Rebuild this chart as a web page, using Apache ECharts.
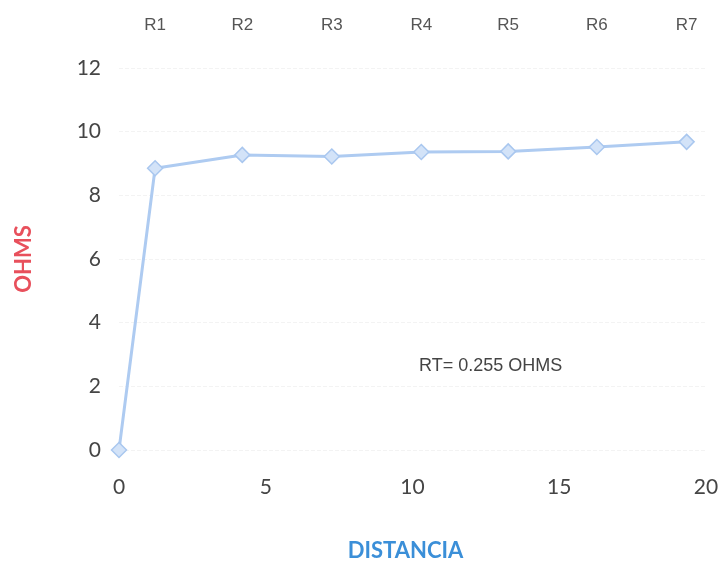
<!DOCTYPE html>
<html>
<head>
<meta charset="utf-8">
<script src="https://cdn.jsdelivr.net/npm/echarts@6/dist/echarts.min.js"></script>
<style>html,body{margin:0;padding:0;background:#fff}#c{width:721px;height:564px}</style>
</head>
<body>
<div id="c"></div>
<script>
var distances = [0, 1.23, 4.2, 7.25, 10.3, 13.26, 16.28, 19.34];
var ohms = [0, 8.85, 9.27, 9.22, 9.36, 9.38, 9.52, 9.68];
var pointNames = ['', 'R1', 'R2', 'R3', 'R4', 'R5', 'R6', 'R7'];
var xTicks = [0, 5, 10, 15, 20];
var yTicks = [0, 2, 4, 6, 8, 10, 12];
var note = 'RT= 0.255 OHMS';

var chart = echarts.init(document.getElementById('c'));
var data = distances.map(function (d, i) { return [d, ohms[i]]; });
var labelFont = 'Lato, "Open Sans", sans-serif';
chart.setOption({
  animation: false,
  backgroundColor: '#ffffff',
  grid: { left: 119, right: 15, top: 68, bottom: 114, outerBoundsMode: 'none', containLabel: false },
  title: {
    text: note, left: 414, top: 352,
    textStyle: { fontFamily: '"Liberation Sans", Arial, sans-serif', fontSize: 18, fontWeight: 'normal', color: '#444' }
  },
  xAxis: [{
    type: 'value', min: xTicks[0], max: xTicks[xTicks.length - 1], interval: 5,
    axisLine: { show: false }, axisTick: { show: false },
    splitLine: { show: false },
    axisLabel: { margin: 27, fontSize: 21, color: '#454545', fontFamily: labelFont },
    name: 'DISTANCIA', nameLocation: 'middle', nameGap: 90,
    nameTextStyle: { fontSize: 22, fontWeight: 'bold', color: '#3b8fd8', fontFamily: labelFont, padding: [0, 14, 0, 0] }
  }, {
    type: 'value', position: 'top', min: xTicks[0], max: xTicks[xTicks.length - 1],
    axisLine: { show: false }, axisTick: { show: false }, splitLine: { show: false },
    axisLabel: {
      customValues: distances.slice(1), margin: 34, fontSize: 17, color: '#555',
      fontFamily: '"Liberation Sans", Arial, sans-serif',
      formatter: function (v) { var i = distances.indexOf(v); return i >= 0 ? pointNames[i] : ''; }
    }
  }],
  yAxis: {
    type: 'value', min: yTicks[0], max: yTicks[yTicks.length - 1], interval: 2,
    axisLine: { show: false }, axisTick: { show: false },
    splitLine: { show: true, lineStyle: { color: '#f3f3f3', type: 'dashed', width: 1 } },
    axisLabel: { margin: 18, fontSize: 21, color: '#454545', fontFamily: labelFont },
    name: 'OHMS', nameLocation: 'middle', nameGap: 84, nameRotate: 90,
    nameTextStyle: { fontSize: 22, fontWeight: 'bold', color: '#e8505c', fontFamily: labelFont }
  },
  series: [{
    type: 'line', data: data, xAxisIndex: 0,
    symbol: 'diamond', symbolSize: 15,
    lineStyle: { color: '#aecbf1', width: 3 },
    itemStyle: { color: '#d3e3f8', borderColor: '#a9c7ef', borderWidth: 1.5 }
  }]
});
</script>
</body>
</html>
